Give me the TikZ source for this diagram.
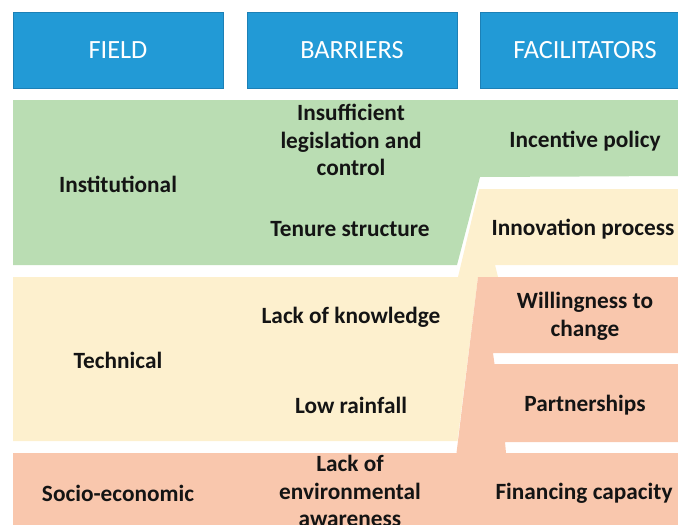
\documentclass[tikz,border=0pt]{standalone}
\usepackage{fontspec}
\setmainfont{Carlito}
\definecolor{hblue}{RGB}{34,154,214}
\definecolor{hborder}{RGB}{28,128,182}
\definecolor{gfill}{RGB}{186,221,179}
\definecolor{yfill}{RGB}{253,240,206}
\definecolor{sfill}{RGB}{249,199,173}
\definecolor{tcol}{RGB}{20,20,20}
\begin{document}
\begin{tikzpicture}[x=1pt,y=-1pt,
  hdr/.style={fill=hblue, draw=hborder, line width=0.6pt, minimum width=210pt, minimum height=76pt, inner sep=0pt,
    text=white, font=\fontsize{26.3}{30}\selectfont},
  btxt/.style={font=\bfseries\fontsize{23.3}{27.5}\selectfont, align=center, text=tcol, inner sep=0pt}]
\useasboundingbox (0,0) rectangle (678,525);
\clip (0,0) rectangle (678,525);
% header boxes
\node[hdr] (hfield) at (118,50) {FIELD};
\node[hdr] (hbarr) at (352,50) {BARRIERS};
\node[hdr, minimum width=211pt] (hfac) at (585.5,50) {};
\node[text=white, font=\fontsize{26.3}{30}\selectfont, inner sep=0pt] (hfact) at (585,50) {FACILITATORS};
% green band
\fill[gfill] (13,100) -- (678,100) -- (678,176) -- (480,177) -- (457,265) -- (13,265) -- cycle;
% yellow band
\fill[yfill] (479,189) -- (678,189) -- (678,265) -- (495,265) -- (498,277) -- (478,277)
  -- (457.5,441) -- (13,441) -- (13,277) -- (458,277) -- cycle;
% salmon band
\fill[sfill] (478,277) -- (678,277) -- (678,353) -- (493,353) -- (494.5,364) -- (678,364)
  -- (678,442) -- (505,442) -- (506,453) -- (678,453) -- (678,525) -- (13,525) -- (13,453)
  -- (456.5,453) -- cycle;
% texts
\node[btxt] (inst) at (118,184.5) {Institutional};
\node[btxt] (insuf) at (351,140) {Insufficient\\legislation and\\control};
\node[btxt] (tenure) at (350,229.5) {Tenure structure};
\node[btxt] (incent) at (585,141) {Incentive policy};
\node[btxt] (innov) at (583,229.5) {Innovation process};
\node[btxt] (tech) at (118,360.5) {Technical};
\node[btxt] (lackk) at (351,317.5) {Lack of knowledge};
\node[btxt] (lowr) at (351,405.5) {Low rainfall};
\node[btxt] (will) at (585,316.5) {Willingness to\\change};
\node[btxt] (partn) at (585,405.5) {Partnerships};
\node[btxt] (socio) at (118,493.5) {Socio-economic};
\node[btxt] (lacke) at (350,491) {Lack of\\environmental\\awareness};
\node[btxt] (finan) at (584,493.5) {Financing capacity};
\end{tikzpicture}
\end{document}
